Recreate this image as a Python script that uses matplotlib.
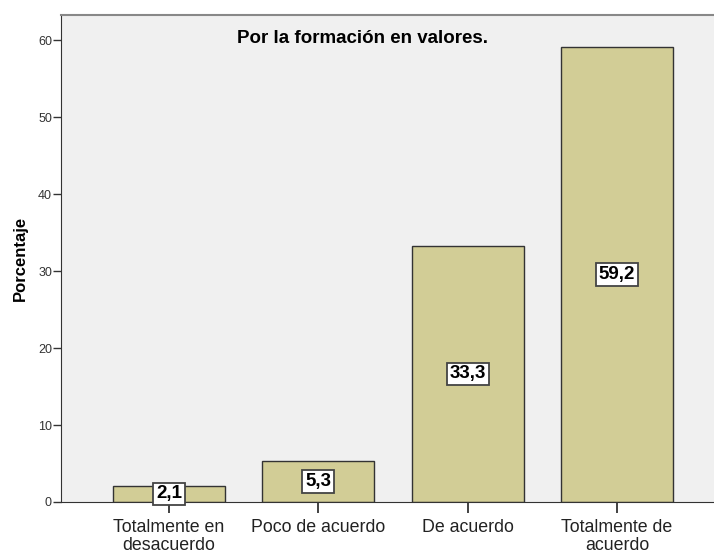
import numpy as np
import matplotlib
matplotlib.use("Agg")
import matplotlib.pyplot as plt

plt.rcParams['font.family'] = ['Liberation Sans', 'DejaVu Sans']

## datos del grafico
categorias = ["Totalmente en\ndesacuerdo", "Poco de acuerdo", "De acuerdo", "Totalmente de\nacuerdo"]
porcentajes = [2.1, 5.3, 33.3, 59.2]
etiquetas = ["2,1", "5,3", "33,3", "59,2"]
yticks = [0, 10, 20, 30, 40, 50, 60]

fig = plt.figure(figsize=(7.14, 5.54), dpi=100)
# left 61px, right 714px, top 15px, bottom 502px
ax = fig.add_axes([61/714, 1 - 502/554, (714-61)/714, (502-15)/554])
ax.set_facecolor('#f0f0f0')

x = np.arange(len(categorias))
ax.bar(x, porcentajes, width=0.75, color='#d2cd96', edgecolor='#333333', linewidth=1.0, zorder=2)

for xi, v, t in zip(x, porcentajes, etiquetas):
    ax.text(xi, v/2, t, ha='center', va='center', fontsize=13.5, fontweight='bold', zorder=3,
            bbox=dict(boxstyle='square,pad=0.15', facecolor='white', edgecolor='#444444', linewidth=1.3))

ax.set_xlim(-0.723, 3.65)
ax.set_ylim(0, 63.3)
ax.set_xticks(x)
ax.set_xticklabels(categorias, fontsize=12.8, color='#222222', linespacing=1.1)
ax.set_yticks(yticks)
ax.set_yticklabels([str(v) for v in yticks], fontsize=9, color='#333333')
ax.tick_params(axis='x', direction='out', length=8, width=1.3, color='#333333', pad=4)
ax.tick_params(axis='y', direction='out', length=5.5, width=1.0, color='#333333', pad=1)

ax.spines['right'].set_visible(False)
ax.spines['top'].set_color('#888888')
ax.spines['top'].set_linewidth(1.5)
ax.spines['left'].set_color('#333333')
ax.spines['bottom'].set_color('#333333')

ax.set_ylabel("Porcentaje", fontsize=12, fontweight='bold')
ax.yaxis.set_label_coords(-0.05, 0.5)
ax.text(0.462, 0.952, "Por la formación en valores.", transform=ax.transAxes,
        ha='center', va='center', fontsize=13.5, fontweight='bold')

fig.savefig("out.png", dpi=100)
